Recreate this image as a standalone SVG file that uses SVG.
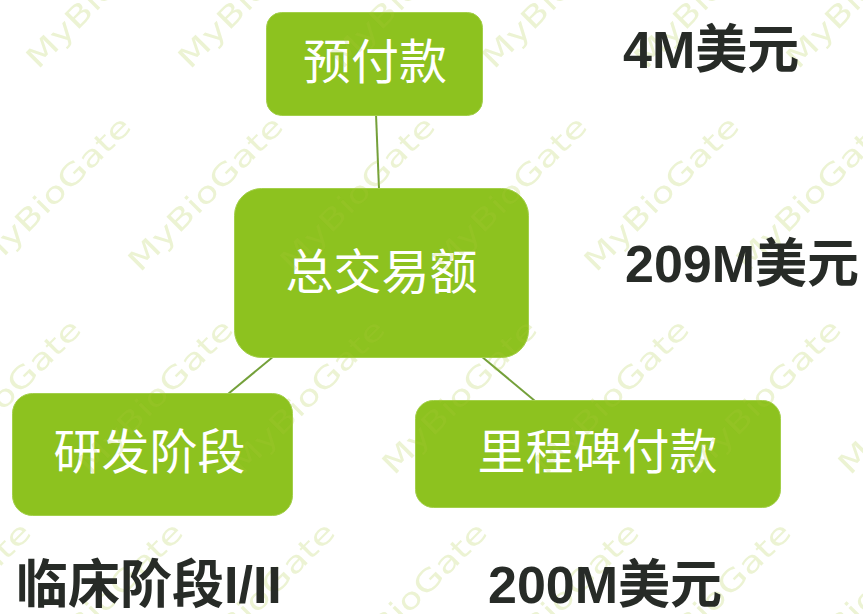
<svg xmlns="http://www.w3.org/2000/svg" xmlns:xlink="http://www.w3.org/1999/xlink" width="863" height="614" viewBox="0 0 863 614">
<style>
.box{fill:#8dc21f;stroke:#a3cf4a;stroke-width:1}
.ntxt{fill:#ffffff;font-family:"Noto Sans CJK SC","Noto Sans CJK JP",sans-serif;font-size:48px;text-anchor:middle;dominant-baseline:central}
.conn{stroke:#74a03a;stroke-width:2;fill:none}
.val{fill:#272b27;font-family:"Liberation Sans","Noto Sans CJK SC",sans-serif;font-weight:bold;font-size:52px}
.wm{fill:#a8c83a;opacity:0.22;font-family:"DejaVu Sans",sans-serif;font-size:29px}
</style>
<defs>
<text id="wm" x="0" y="0" textLength="205" lengthAdjust="spacingAndGlyphs">MyBioGate</text>
</defs>
<rect width="863" height="614" fill="#ffffff"/>
<g id="connectors">
<line class="conn" x1="376" y1="114" x2="379" y2="189"/>
<line class="conn" x1="274" y1="356" x2="228" y2="394"/>
<line class="conn" x1="481" y1="356" x2="535" y2="401"/>
</g>
<g id="node-upfront">
<rect class="box" x="266.5" y="12.5" width="216" height="103" rx="15"/>
<text class="ntxt" x="375" y="58">预付款</text>
</g>
<g id="node-total">
<rect class="box" x="234.5" y="188.5" width="294" height="169" rx="27"/>
<text class="ntxt" x="381.5" y="268">总交易额</text>
</g>
<g id="node-rd">
<rect class="box" x="12.5" y="393.5" width="280" height="122" rx="20"/>
<text class="ntxt" x="149.5" y="448">研发阶段</text>
</g>
<g id="node-milestone">
<rect class="box" x="415.5" y="400.5" width="365" height="107" rx="18"/>
<text class="ntxt" x="597.5" y="448">里程碑付款</text>
</g>
<g id="watermark" class="wm">
<use xlink:href="#wm" transform="translate(38 70) rotate(-45)"/>
<use xlink:href="#wm" transform="translate(190 70) rotate(-45)"/>
<use xlink:href="#wm" transform="translate(342 70) rotate(-45)"/>
<use xlink:href="#wm" transform="translate(494 70) rotate(-45)"/>
<use xlink:href="#wm" transform="translate(646 70) rotate(-45)"/>
<use xlink:href="#wm" transform="translate(798 70) rotate(-45)"/>
<use xlink:href="#wm" transform="translate(-12 273) rotate(-45)"/>
<use xlink:href="#wm" transform="translate(140 273) rotate(-45)"/>
<use xlink:href="#wm" transform="translate(292 273) rotate(-45)"/>
<use xlink:href="#wm" transform="translate(444 273) rotate(-45)"/>
<use xlink:href="#wm" transform="translate(596 273) rotate(-45)"/>
<use xlink:href="#wm" transform="translate(748 273) rotate(-45)"/>
<use xlink:href="#wm" transform="translate(-62 476) rotate(-45)"/>
<use xlink:href="#wm" transform="translate(90 476) rotate(-45)"/>
<use xlink:href="#wm" transform="translate(242 476) rotate(-45)"/>
<use xlink:href="#wm" transform="translate(394 476) rotate(-45)"/>
<use xlink:href="#wm" transform="translate(546 476) rotate(-45)"/>
<use xlink:href="#wm" transform="translate(698 476) rotate(-45)"/>
<use xlink:href="#wm" transform="translate(850 476) rotate(-45)"/>
<use xlink:href="#wm" transform="translate(-112 679) rotate(-45)"/>
<use xlink:href="#wm" transform="translate(40 679) rotate(-45)"/>
<use xlink:href="#wm" transform="translate(192 679) rotate(-45)"/>
<use xlink:href="#wm" transform="translate(344 679) rotate(-45)"/>
<use xlink:href="#wm" transform="translate(496 679) rotate(-45)"/>
<use xlink:href="#wm" transform="translate(648 679) rotate(-45)"/>
<use xlink:href="#wm" transform="translate(800 679) rotate(-45)"/>
</g>
<g id="labels">
<text id="label-upfront" class="val" x="623" y="68">4M美元</text>
<text id="label-total" class="val" x="625" y="282">209M美元</text>
<text id="label-rd" class="val" x="16" y="603">临床阶段I/II</text>
<text id="label-milestone" class="val" x="488" y="603">200M美元</text>
</g>
</svg>
